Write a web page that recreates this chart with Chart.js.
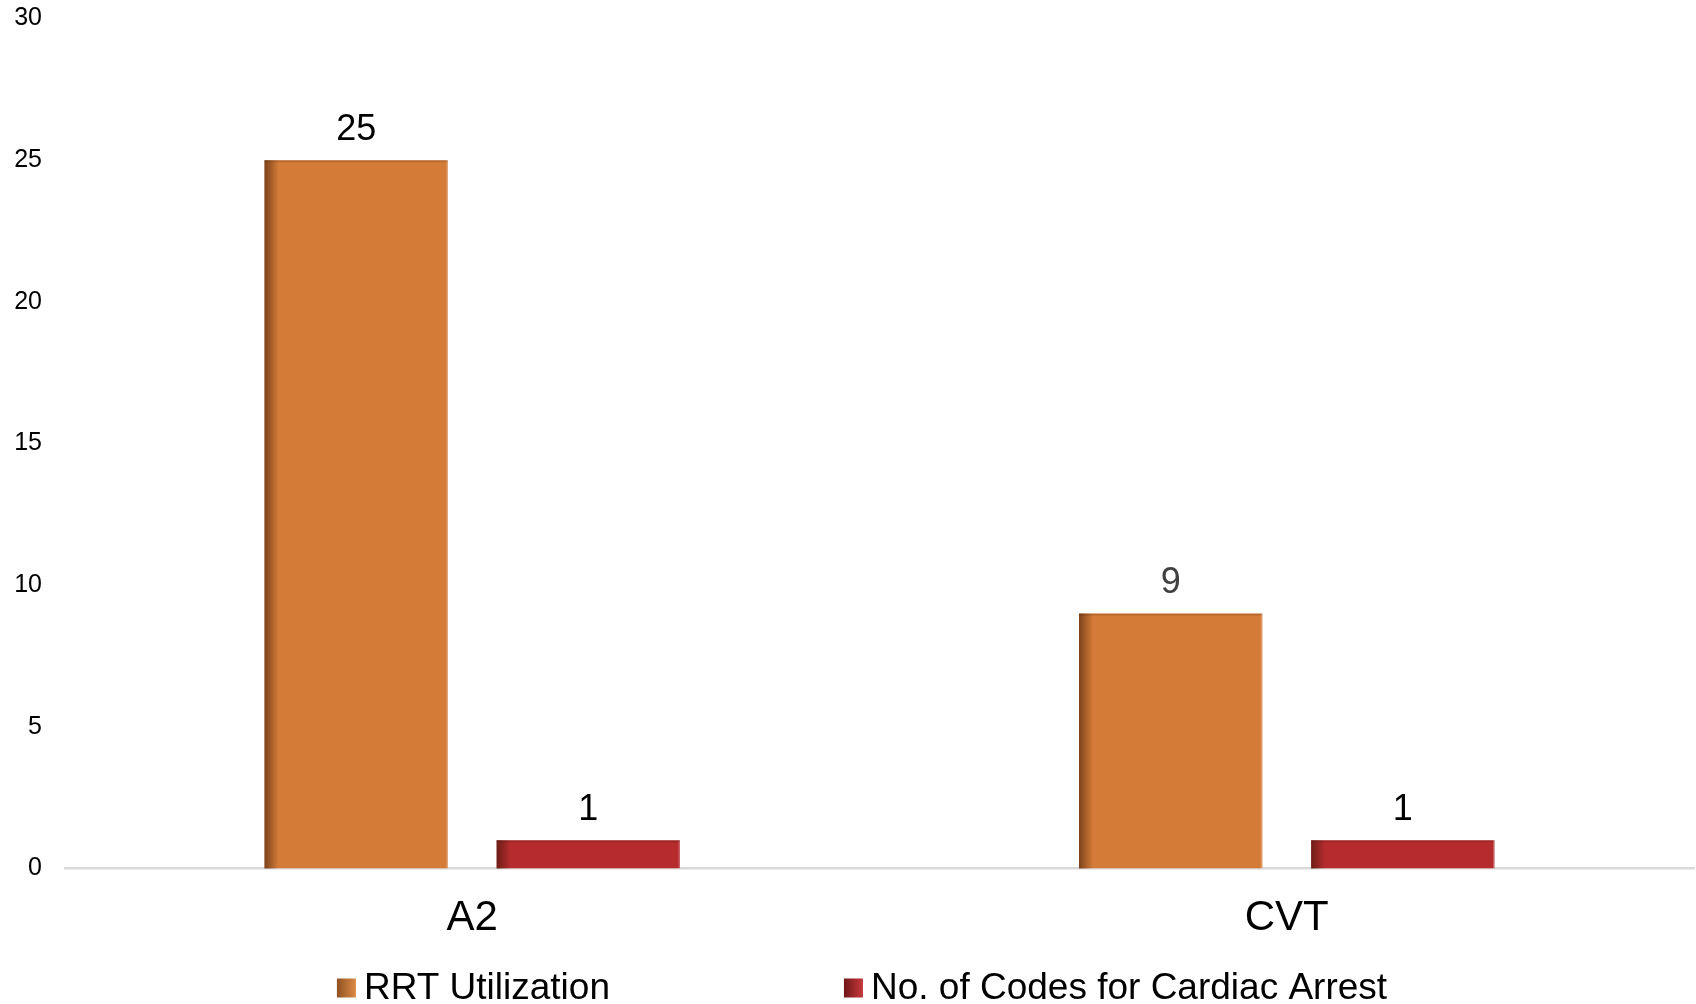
<!DOCTYPE html>
<html><head><meta charset="utf-8">
<script src="https://cdn.jsdelivr.net/npm/chart.js@4/dist/chart.umd.min.js"></script>
<style>html,body{margin:0;padding:0;background:#fff}#wrap{width:1696px;height:1004px;position:relative}</style>
</head><body><div id="wrap"><canvas id="c"></canvas></div>
<script>
const categories = ['A2', 'CVT'];
const seriesNames = ['RRT Utilization', 'No. of Codes for Cardiac Arrest'];
const rrtValues = [25, 9];
const codeValues = [1, 1];
const yTickMin = 0, yTickMax = 30, yTickStep = 5;

const FONT = '"Liberation Sans", Arial, Helvetica, sans-serif';
const seriesColors = ['#D47B37', '#B52B2E'];
const legendGrad = [['#8E5122', '#DC8A45'], ['#6E1618', '#C9393B']];
const valueLabelColor = (ds, i) => (ds === 0 && i === 1) ? '#404040' : '#000000';

Chart.defaults.font.family = FONT;

const barShade = {
  id: 'barShade',
  afterDatasetsDraw(chart) {
    const ctx = chart.ctx;
    chart.data.datasets.forEach((ds, di) => {
      const meta = chart.getDatasetMeta(di);
      meta.data.forEach((el, i) => {
        const p = el.getProps(['x', 'y', 'base', 'width'], true);
        const left = p.x - p.width / 2;
        const h = p.base - p.y;
        ctx.save();
        const g = ctx.createLinearGradient(left, 0, left + 14, 0);
        g.addColorStop(0, 'rgba(50,20,5,0.55)');
        g.addColorStop(1, 'rgba(50,20,5,0)');
        ctx.fillStyle = g;
        ctx.fillRect(left, p.y, 14, h);
        ctx.fillStyle = 'rgba(60,25,5,0.18)';
        ctx.fillRect(left, p.y, p.width, 2);
        ctx.fillStyle = 'rgba(255,255,255,0.25)';
        ctx.fillRect(left + p.width - 1.5, p.y, 1.5, h);
        ctx.fillStyle = valueLabelColor(di, i);
        ctx.font = '36px ' + FONT;
        ctx.textAlign = 'center';
        ctx.textBaseline = 'middle';
        ctx.fillText(String(ds.data[i]), p.x, p.y - 30.5);
        ctx.restore();
      });
    });
  }
};

const customLegend = {
  id: 'customLegend',
  afterDraw(chart) {
    const ctx = chart.ctx;
    ctx.save();
    ctx.font = '37px ' + FONT;
    const box = 19, gapText = 8, gapItem = 234;
    const widths = chart.data.datasets.map(d => ctx.measureText(d.label).width);
    let total = 0;
    widths.forEach((w, i) => { total += box + gapText + w + (i < widths.length - 1 ? gapItem : 0); });
    let x = chart.width / 2 + 14 - total / 2;
    const cy = chart.height - 16;
    chart.data.datasets.forEach((d, i) => {
      const g = ctx.createLinearGradient(x, 0, x + box, 0);
      g.addColorStop(0, legendGrad[i][0]);
      g.addColorStop(1, legendGrad[i][1]);
      ctx.fillStyle = g;
      ctx.fillRect(x, cy - box / 2, box, box);
      ctx.fillStyle = '#000';
      ctx.textAlign = 'left';
      ctx.textBaseline = 'middle';
      ctx.fillText(d.label, x + box + gapText, cy + 1);
      x += box + gapText + widths[i] + gapItem;
    });
    ctx.restore();
  }
};

new Chart(document.getElementById('c'), {
  type: 'bar',
  data: {
    labels: categories,
    datasets: [
      { label: seriesNames[0], data: rrtValues, backgroundColor: seriesColors[0], categoryPercentage: 0.57, barPercentage: 0.79 },
      { label: seriesNames[1], data: codeValues, backgroundColor: seriesColors[1], categoryPercentage: 0.57, barPercentage: 0.79 }
    ]
  },
  options: {
    responsive: true,
    maintainAspectRatio: false,
    animation: false,
    devicePixelRatio: 1,
    layout: { padding: { left: 15, right: 2, top: 18.5, bottom: 35 } },
    plugins: { legend: { display: false }, tooltip: { enabled: false } },
    scales: {
      x: {
        grid: { display: false, drawTicks: false },
        border: { display: true, color: '#d9d9d9', width: 2.5 },
        ticks: { color: '#000', font: { size: 42 }, padding: 25 }
      },
      y: {
        min: yTickMin, max: yTickMax,
        grid: { display: false, drawTicks: false },
        border: { display: false },
        ticks: { stepSize: yTickStep, color: '#000', font: { size: 25 }, padding: 23 },
        afterFit(s) { s.width = 50; s.paddingTop = 0; s.paddingBottom = 0; }
      }
    }
  },
  plugins: [barShade, customLegend]
});
</script></body></html>
